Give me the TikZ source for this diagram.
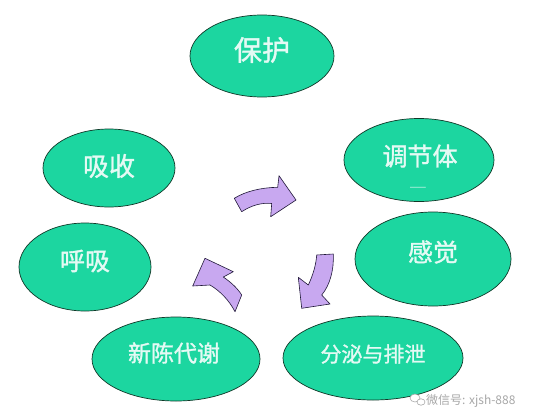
\documentclass[tikz,border=0pt]{standalone}
\usepackage{fontspec}
\newfontfamily\cjk{Noto Sans CJK SC}
\newfontfamily\cjkb[FakeBold=1.3]{Noto Sans CJK SC}
\usetikzlibrary{shapes.geometric}
\definecolor{ellfill}{HTML}{1CD6A0}
\definecolor{ellline}{HTML}{103828}
\definecolor{txtcol}{HTML}{E4FAF4}
\definecolor{arrfill}{HTML}{C8A8F0}
\definecolor{arrline}{HTML}{201838}
\definecolor{wmark}{HTML}{A8A8A8}
\begin{document}
\begin{tikzpicture}[x=1pt,y=-1pt,
  ell/.style={ellipse, draw=ellline, line width=0.7pt, fill=ellfill, inner sep=0pt},
  lbl/.style={text=txtcol, inner sep=0pt},
  arr/.style={draw=arrline, fill=arrfill, line width=0.6pt, line join=round},
  wm/.style={font=\cjk\fontsize{12pt}{14pt}\selectfont, text=wmark, inner sep=0pt, anchor=west}]
\useasboundingbox (0,0) rectangle (534,412);
\fill[white] (0,0) rectangle (534,412);

% ellipses
\node[ell, minimum width=144pt, minimum height=82pt] (e1) at (262,56) {};
\node[ell, minimum width=150pt, minimum height=83pt] (e2) at (419,160) {};
\node[ell, minimum width=156pt, minimum height=94pt] (e3) at (433,259) {};
\node[ell, minimum width=180pt, minimum height=84pt] (e4) at (373,358) {};
\node[ell, minimum width=168pt, minimum height=84pt] (e5) at (176,359) {};
\node[ell, minimum width=132pt, minimum height=78pt] (e6) at (109,168) {};
\node[ell, minimum width=132pt, minimum height=88pt] (e7) at (85,267) {};

% labels
\node[lbl, font=\cjkb\fontsize{28pt}{30pt}\selectfont] (t1) at (262,50) {保护};
\node[lbl, font=\cjkb\fontsize{25pt}{27pt}\selectfont] (t2) at (420,156) {调节体};
\node[lbl, font=\cjk\fontsize{10pt}{11pt}\selectfont] (t2b) at (418,189) {——};
\node[lbl, font=\cjkb\fontsize{25pt}{27pt}\selectfont] (t3) at (433,252) {感觉};
\node[lbl, font=\cjkb\fontsize{21pt}{23pt}\selectfont] (t4) at (373,354) {分泌与排泄};
\node[lbl, font=\cjkb\fontsize{23pt}{25pt}\selectfont] (t5) at (174,353) {新陈代谢};
\node[lbl, font=\cjkb\fontsize{26pt}{28pt}\selectfont] (t6) at (109,166) {吸收};
\node[lbl, font=\cjkb\fontsize{25pt}{27pt}\selectfont] (t7) at (85,261) {呼吸};

% curved block arrows
\draw[arr] (241.7,211.7) .. controls (252,205) and (262,202.5) .. (271.7,203.5)
  -- (270.7,216.7) -- (296,200) -- (279,175.7) -- (277.7,187.3)
  .. controls (262,187.5) and (246,191) .. (234.3,198.3) -- cycle;
\draw[arr] (316.7,255) -- (333.3,254) .. controls (334,270) and (330,285) .. (321.7,295)
  -- (330,304) -- (301.7,308.3) -- (298.3,277.3) -- (308.3,285)
  .. controls (313,275) and (316,265) .. (316.7,255) -- cycle;
\draw[arr] (205,258.3) -- (233.3,271.7) -- (223.3,277)
  .. controls (232,283) and (238,289) .. (241.7,295) -- (235,311.7)
  .. controls (229,300) and (220,291) .. (210,285) -- (192.7,286) -- cycle;

% watermark
\draw[wmark, fill=white, line width=0.6pt] (415,398) ellipse (5pt and 4pt);
\draw[wmark, fill=white, line width=0.6pt] (421,402) ellipse (4pt and 3.2pt);
\node[wm] (w) at (426,401) {微信号: xjsh-888};
\end{tikzpicture}
\end{document}
